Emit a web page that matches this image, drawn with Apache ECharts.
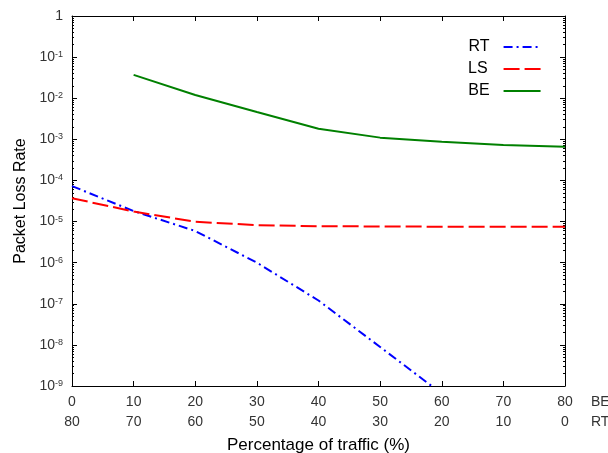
<!DOCTYPE html>
<html><head><meta charset="utf-8">
<script src="https://cdn.jsdelivr.net/npm/echarts@6/dist/echarts.min.js"></script>
<style>html,body{margin:0;padding:0;background:#fff}#c{width:608px;height:453px}</style>
</head><body><div id="c"></div>
<script>
// BE traffic share (top label row) and RT traffic share (bottom label row)
const beShare = [0, 10, 20, 30, 40, 50, 60, 70, 80];
const rtShare = [80, 70, 60, 50, 40, 30, 20, 10, 0];
// Packet loss rate per class
const rtLoss = [7.3e-5, 1.8e-5, 5.9e-6, 1.0e-6, 1.2e-7, 8.9e-9, 6.5e-10, null, null];
const lsLoss = [3.7e-5, 1.75e-5, 9.9e-6, 8.2e-6, 7.7e-6, 7.6e-6, 7.5e-6, 7.5e-6, 7.5e-6];
const beLoss = [null, 3.7e-2, 1.2e-2, 4.6e-3, 1.8e-3, 1.1e-3, 8.7e-4, 7.3e-4, 6.6e-4];
// y tick decades (exponents)
const yDecades = [0, -1, -2, -3, -4, -5, -6, -7, -8, -9];
const minorMantissas = [2, 3, 4, 5, 6, 7, 8, 9];

const majorVals = yDecades.map(e => Math.pow(10, e));
const minorVals = [];
yDecades.forEach(e => { if (e < 0) minorMantissas.forEach(m => minorVals.push(m * Math.pow(10, e))); });

function pairs(arr) {
  const out = [];
  beShare.forEach((x, i) => { if (arr[i] != null) out.push([x, arr[i]]); });
  return out;
}

const FONT = '"Liberation Sans", Arial, sans-serif';
const lbl = '#333';

function xAx(pos, showLabel, extra) {
  return Object.assign({
    type: 'value', position: pos, min: 0, max: 80, interval: 10,
    axisLine: { show: true, onZero: false, lineStyle: { color: '#000', width: 1 } },
    axisTick: { show: true, inside: true, length: 5, lineStyle: { color: '#000' } },
    splitLine: { show: false },
    axisLabel: showLabel ? {
      margin: 6, fontSize: 14, lineHeight: 20, color: lbl, fontFamily: FONT,
      formatter: v => { const i = beShare.indexOf(v); return beShare[i] + '\n' + rtShare[i]; }
    } : { show: false }
  }, extra || {});
}
function yAx(pos, major, showLabel) {
  return {
    type: 'log', logBase: 10, position: pos, min: 1e-9, max: 1,
    axisLine: { show: major, lineStyle: { color: '#000', width: 1 } },
    axisTick: { show: true, inside: true, length: major ? 5 : 2,
      customValues: major ? majorVals : minorVals, lineStyle: { color: '#000' } },
    splitLine: { show: false },
    axisLabel: showLabel ? {
      customValues: majorVals, margin: 9, fontFamily: FONT,
      formatter: v => { const e = Math.round(Math.log10(v)); return e === 0 ? '{n|1}' : '{n|10}{s|' + e + '}'; },
      rich: {
        n: { fontSize: 14, color: lbl, fontFamily: FONT },
        s: { fontSize: 9, color: lbl, fontFamily: FONT, verticalAlign: 'top' }
      }
    } : { show: false }
  };
}

const chart = echarts.init(document.getElementById('c'));
chart.setOption({
  backgroundColor: '#fff',
  animation: false,
  textStyle: { fontFamily: FONT },
  grid: { left: 72, right: 43, top: 16, bottom: 67, containLabel: false, outerBoundsMode: 'none' },
  legend: {
    orient: 'vertical', left: 463, top: 34, align: 'right',
    itemWidth: 37, itemHeight: 14, itemGap: 6,
    itemStyle: { opacity: 0 },
    textStyle: { fontSize: 16, color: '#000', fontFamily: FONT, padding: [0, 9, 0, 0] },
    data: ['RT', { name: 'LS', textStyle: { padding: [0, 11, 0, 0] } }, 'BE']
  },
  xAxis: [
    xAx('bottom', true, { name: 'Percentage of traffic (%)', nameLocation: 'middle', nameGap: 44,
      nameTextStyle: { fontSize: 17, color: '#000', fontFamily: FONT } }),
    xAx('top', false)
  ],
  yAxis: [
    Object.assign(yAx('left', true, true), { name: 'Packet Loss Rate', nameLocation: 'middle', nameGap: 42,
      nameTextStyle: { fontSize: 16, color: '#000', fontFamily: FONT } }),
    yAx('left', false, false),
    yAx('right', true, false),
    yAx('right', false, false)
  ],
  graphic: [
    { type: 'text', left: 591, top: 392, style: { text: 'BE\nRT', fontSize: 14, lineHeight: 20, fill: lbl, fontFamily: FONT } }
  ],
  series: [
    { name: 'RT', type: 'line', data: pairs(rtLoss), symbol: 'none', clip: true,
      lineStyle: { color: '#0000FF', width: 2, type: [9, 4, 2, 4] }, itemStyle: { color: '#0000FF' } },
    { name: 'LS', type: 'line', data: pairs(lsLoss), symbol: 'none', clip: true,
      lineStyle: { color: '#FF0000', width: 2, type: [16, 5] }, itemStyle: { color: '#FF0000' } },
    { name: 'BE', type: 'line', data: pairs(beLoss), symbol: 'none', clip: true,
      lineStyle: { color: '#008000', width: 2, type: 'solid' }, itemStyle: { color: '#008000' } }
  ]
});
</script></body></html>
